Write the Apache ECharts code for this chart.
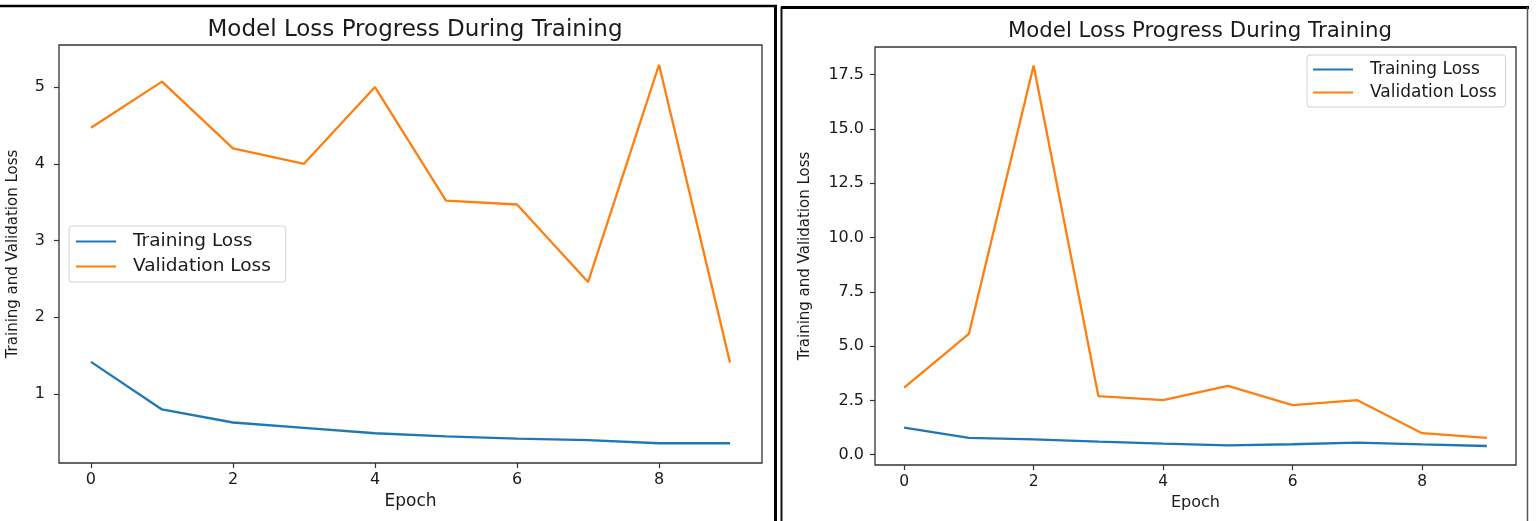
<!DOCTYPE html>
<html>
<head>
<meta charset="utf-8">
<script src="https://cdn.jsdelivr.net/npm/echarts@6.0.0/dist/echarts.min.js"></script>
<style>
  html, body { margin: 0; padding: 0; background: #fff; }
  #chart { width: 1536px; height: 521px; }
</style>
</head>
<body>
<div id="chart"></div>
<script>
// values
var epochs = [0, 1, 2, 3, 4, 5, 6, 7, 8, 9];
var leftTrainLoss = [1.42, 0.80, 0.63, 0.56, 0.49, 0.45, 0.42, 0.40, 0.36, 0.36];
var leftValLoss = [4.47, 5.07, 4.20, 4.00, 5.00, 3.52, 3.47, 2.46, 5.29, 1.41];
var rightTrainLoss = [1.25, 0.77, 0.70, 0.60, 0.51, 0.43, 0.48, 0.55, 0.47, 0.40];
var rightValLoss = [3.09, 5.56, 17.92, 2.70, 2.51, 3.17, 2.28, 2.51, 0.99, 0.77];

var xTicks = [0, 2, 4, 6, 8];
var leftYTicks = [1, 2, 3, 4, 5];
var rightYTicks = [0, 2.5, 5, 7.5, 10, 12.5, 15, 17.5];

var titleText = 'Model Loss Progress During Training';
var xName = 'Epoch';
var yName = 'Training and Validation Loss';
var seriesNames = ['Training Loss', 'Validation Loss'];

var blue = '#1f77b4';
var orange = '#ff7f0e';
var ink = '#1a1a1a';
var font = 'DejaVu Sans';

var pairs = function (ys) {
  return epochs.map(function (e, i) { return [e, ys[i]]; });
};

var chartDom = document.getElementById('chart');
var myChart = echarts.init(chartDom, null, { renderer: 'canvas' });

function xAxisFor(gridIndex, fs, nameFs, gap) {
  return {
    type: 'value',
    gridIndex: gridIndex,
    min: -0.45,
    max: 9.45,
    name: xName,
    nameLocation: 'middle',
    nameGap: gap,
    nameTextStyle: { fontFamily: font, fontSize: nameFs, color: ink },
    axisLine: { show: false, onZero: false },
    splitLine: { show: false },
    axisTick: { show: true, length: 5, customValues: xTicks, lineStyle: { color: '#333', width: 1.2 } },
    axisLabel: { customValues: xTicks, margin: 9, fontFamily: font, fontSize: fs, color: ink }
  };
}

function yAxisFor(gridIndex, min, max, ticks, fs, gap, margin, digits) {
  return {
    type: 'value',
    gridIndex: gridIndex,
    min: min,
    max: max,
    name: yName,
    nameLocation: 'middle',
    nameGap: gap,
    nameRotate: 90,
    nameTextStyle: { fontFamily: font, fontSize: 15, color: ink },
    axisLine: { show: false, onZero: false },
    splitLine: { show: false },
    axisTick: { show: true, length: 5, customValues: ticks, lineStyle: { color: '#333', width: 1.2 } },
    axisLabel: {
      customValues: ticks,
      margin: margin,
      fontFamily: font,
      fontSize: fs,
      color: ink,
      formatter: function (v) { return v.toFixed(digits); }
    }
  };
}

function legendFor(left, top, fs, pad) {
  return {
    orient: 'vertical',
    left: left,
    top: top,
    align: 'left',
    data: seriesNames,
    icon: 'rect',
    itemWidth: 40,
    itemHeight: 2,
    itemGap: 6,
    selectedMode: false,
    backgroundColor: '#fff',
    borderColor: '#d0d0d0',
    borderWidth: 1,
    borderRadius: 3,
    padding: pad,
    textStyle: { fontFamily: font, fontSize: fs, color: ink, lineHeight: 17, padding: [0, 0, 0, 12] }
  };
}

function lineSeries(name, xi, data, color) {
  return {
    name: name,
    type: 'line',
    xAxisIndex: xi,
    yAxisIndex: xi,
    data: pairs(data),
    showSymbol: false,
    symbol: 'none',
    lineStyle: { color: color, width: 2.3 },
    itemStyle: { color: color },
    z: 3
  };
}

var option = {
  animation: false,
  backgroundColor: '#fff',
  title: [
    { text: titleText, left: 410, top: 14, textAlign: 'center',
      textStyle: { fontFamily: font, fontSize: 23, fontWeight: 'normal', color: ink } },
    { text: titleText, left: 1195, top: 16, textAlign: 'center',
      textStyle: { fontFamily: font, fontSize: 21.3, fontWeight: 'normal', color: ink } }
  ],
  grid: [
    { left: 59, top: 45, width: 703, height: 418, show: true, borderColor: '#333', borderWidth: 1.3, backgroundColor: 'transparent' },
    { left: 875, top: 47, width: 641, height: 418, show: true, borderColor: '#333', borderWidth: 1.3, backgroundColor: 'transparent' }
  ],
  xAxis: [
    xAxisFor(0, 16, 17, 29),
    xAxisFor(1, 15.5, 16, 29)
  ],
  yAxis: [
    yAxisFor(0, 0.1025, 5.5475, leftYTicks, 16, 38, 14, 0),
    yAxisFor(1, -0.476, 18.776, rightYTicks, 16, 62, 11, 1)
  ],
  legend: [
    legendFor(69, 226, 18.5, [6, 15, 6, 7]),
    legendFor(1307, 55, 17, [6, 9, 6, 6])
  ],
  series: [
    lineSeries(seriesNames[0], 0, leftTrainLoss, blue),
    lineSeries(seriesNames[1], 0, leftValLoss, orange),
    lineSeries(seriesNames[0], 1, rightTrainLoss, blue),
    lineSeries(seriesNames[1], 1, rightValLoss, orange)
  ],
  graphic: [
    // outer frames of the two screenshot panels
    { type: 'line', shape: { x1: 0, y1: 6, x2: 777, y2: 6 }, style: { stroke: '#000', lineWidth: 2.5 } },
    { type: 'line', shape: { x1: 775.5, y1: 5, x2: 775.5, y2: 521 }, style: { stroke: '#000', lineWidth: 3 } },
    { type: 'line', shape: { x1: 781.5, y1: 7, x2: 781.5, y2: 521 }, style: { stroke: '#111', lineWidth: 2 } },
    { type: 'line', shape: { x1: 781, y1: 7.5, x2: 1529, y2: 7.5 }, style: { stroke: '#000', lineWidth: 3 } },
    { type: 'line', shape: { x1: 1527.5, y1: 7, x2: 1527.5, y2: 521 }, style: { stroke: '#555', lineWidth: 1.5 } }
  ]
};

myChart.setOption(option);
</script>
</body>
</html>
